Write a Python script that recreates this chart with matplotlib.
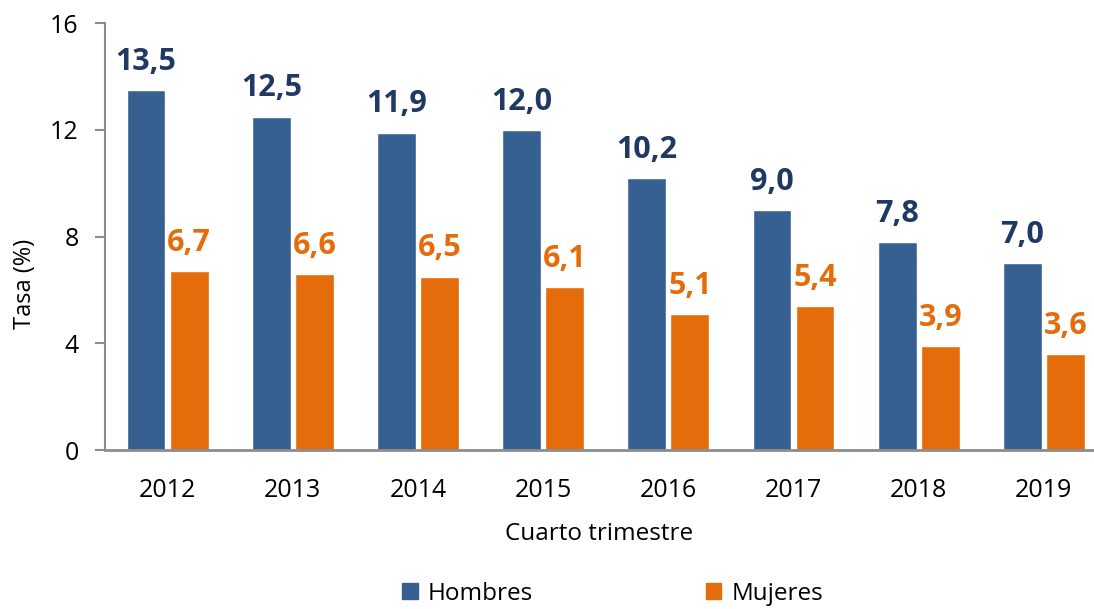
import numpy as np
import matplotlib
matplotlib.use("Agg")
from matplotlib import pyplot as plt
from matplotlib.patches import Patch

years = ["2012", "2013", "2014", "2015", "2016", "2017", "2018", "2019"]
hombres = [13.5, 12.5, 11.9, 12.0, 10.2, 9.0, 7.8, 7.0]
mujeres = [6.7, 6.6, 6.5, 6.1, 5.1, 5.4, 3.9, 3.6]

plt.rcParams['font.family'] = ['Open Sans', 'DejaVu Sans']

blue = "#376092"
orange = "#E46C0A"
blue_txt = "#1F3864"
gray = "#8C8C8C"

fig = plt.figure(figsize=(10.94, 6.09), dpi=100)
ax = fig.add_axes([0.096, 0.261, 0.904, 0.701])

x = np.arange(len(years))
off = 0.172
w = 0.31
ax.bar(x - off, hombres, w, color=blue, edgecolor="white", linewidth=1)
ax.bar(x + off, mujeres, w, color=orange, edgecolor="white", linewidth=1)

for i in range(len(years)):
    ax.text(x[i] - off, hombres[i] + 0.5, ("%.1f" % hombres[i]).replace(".", ","),
            ha="center", va="bottom", fontsize=22, fontweight="bold", color=blue_txt)
    ax.text(x[i] + off, mujeres[i] + 0.5, ("%.1f" % mujeres[i]).replace(".", ","),
            ha="center", va="bottom", fontsize=22, fontweight="bold", color=orange)

ax.set_ylim(0, 16)
ax.set_xlim(-0.5, 7.4)
ax.set_yticks([0, 4, 8, 12, 16])
ax.set_xticks(x)
ax.set_xticklabels(years)
ax.tick_params(axis="y", labelsize=18, length=7, color=gray, width=1.5, pad=12)
ax.tick_params(axis="x", labelsize=18, length=0, pad=20)

for s in ["top", "right"]:
    ax.spines[s].set_visible(False)
ax.spines["left"].set_color(gray)
ax.spines["bottom"].set_color(gray)
ax.spines["left"].set_linewidth(1.5)
ax.spines["bottom"].set_linewidth(2)

ax.set_ylabel("Tasa (%)", fontsize=17)
ax.yaxis.set_label_coords(-0.069, 0.389)
ax.set_xlabel("Cuarto trimestre", fontsize=17.5, labelpad=14)

handles = [Patch(color=blue, label="Hombres"), Patch(color=orange, label="Mujeres")]
fig.legend(handles=handles, loc="center", bbox_to_anchor=(0.56, 0.025), ncol=2,
           frameon=False, fontsize=17.5, handlelength=0.65, handleheight=0.65,
           handletextpad=0.4, columnspacing=7.1)

fig.savefig("out.png", dpi=100)
